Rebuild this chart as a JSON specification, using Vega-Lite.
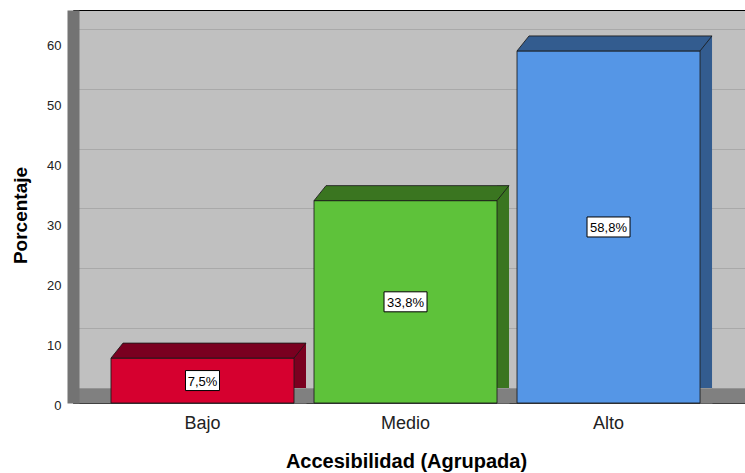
{
  "$schema": "https://vega.github.io/schema/vega-lite/v6.json",
  "width": 672,
  "height": 393,
  "autosize": {"type": "none"},
  "padding": {"left": 73, "top": 10, "right": 0, "bottom": 70},
  "background": "#ffffff",
  "config": {
    "font": "Liberation Sans",
    "view": {"fill": "#c0c0c0", "stroke": "#000000", "strokeWidth": 1}
  },
  "data": {
    "values": [
      {"cat": "Bajo", "pct": 7.5},
      {"cat": "Medio", "pct": 33.8},
      {"cat": "Alto", "pct": 58.8}
    ]
  },
  "transform": [
    {"calculate": "datum.pct / 2", "as": "mid"},
    {"calculate": "replace(format(datum.pct, '.1f'), '.', ',') + '%'", "as": "label"}
  ],
  "encoding": {
    "x": {
      "field": "cat",
      "type": "nominal",
      "sort": ["Bajo", "Medio", "Alto"],
      "scale": {"paddingInner": 0.0985, "paddingOuter": 0.2043, "align": 0.458},
      "axis": {
        "title": "Accesibilidad (Agrupada)",
        "labelAngle": 0,
        "grid": false,
        "ticks": false,
        "tickSize": 0,
        "offset": -7.5,
        "domainColor": "#808080",
        "domainWidth": 15,
        "labelPadding": 32.5,
        "labelBaseline": "alphabetic",
        "labelFontSize": 18,
        "labelColor": "#222222",
        "titleFontSize": 20,
        "titleFontWeight": "bold",
        "titleColor": "#000000",
        "titleBaseline": "alphabetic",
        "titleX": 333,
        "titleY": 71.5
      }
    }
  },
  "layer": [
    {
      "mark": {"type": "bar", "width": 12, "xOffset": 97.5, "yOffset": -15},
      "encoding": {
        "y": {
          "field": "pct",
          "type": "quantitative",
          "title": "Porcentaje",
          "scale": {"domain": [0, 65.64], "nice": false, "zero": true},
          "axis": {
            "values": [0, 10, 20, 30, 40, 50, 60],
            "grid": true,
            "gridColor": "#a9a9a9",
            "gridWidth": 1,
            "tickOffset": -15,
            "labelOffset": 17,
            "ticks": false,
            "tickSize": 0,
            "offset": 0,
            "domainColor": "#737373",
            "domainWidth": 12,
            "labelPadding": 12,
            "labelFontSize": 13,
            "labelColor": "#222222",
            "labelOverlap": false,
            "labelFlush": false,
            "titleFontSize": 19,
            "titleFontWeight": "bold",
            "titleColor": "#000000",
            "titleBaseline": "bottom",
            "titleX": -43,
            "titleY": 205
          }
        },
        "fill": {
          "field": "cat",
          "type": "nominal",
          "scale": {"domain": ["Bajo", "Medio", "Alto"], "range": ["#7a0020", "#3a7520", "#335c8f"]},
          "legend": null
        }
      }
    },
    {
      "mark": {"type": "point", "filled": true, "opacity": 1, "size": 4, "shape": "M91.5,0.5L104,-15L104,0.5Z", "fill": "#808080", "strokeWidth": 0},
      "encoding": {
        "y": {"datum": 0, "type": "quantitative", "title": "Porcentaje"}
      }
    },
    {
      "mark": {"type": "bar", "stroke": "#1a1a1a", "strokeWidth": 1, "strokeOpacity": 0.85},
      "encoding": {
        "y": {"field": "pct", "type": "quantitative", "title": "Porcentaje"},
        "color": {
          "field": "cat",
          "type": "nominal",
          "scale": {"domain": ["Bajo", "Medio", "Alto"], "range": ["#d6002f", "#5ec23a", "#5596e6"]},
          "legend": null
        }
      }
    },
    {
      "mark": {"type": "point", "filled": true, "opacity": 1, "size": 4, "shape": "M-91.5,0L91.5,0L103.5,-15L-79.5,-15Z", "stroke": "#1a1a1a", "strokeWidth": 1, "strokeOpacity": 0.85},
      "encoding": {
        "y": {"field": "pct", "type": "quantitative", "title": "Porcentaje"},
        "fill": {"field": "cat", "type": "nominal", "legend": null}
      }
    },
    {
      "mark": {"type": "point", "filled": true, "opacity": 1, "size": 4, "fill": "#ffffff", "stroke": "#000000", "strokeWidth": 1},
      "encoding": {
        "y": {"field": "mid", "type": "quantitative", "title": "Porcentaje"},
        "shape": {
          "field": "cat",
          "type": "nominal",
          "scale": {
            "domain": ["Bajo", "Medio", "Alto"],
            "range": ["M-17,-10L17,-10L17,10L-17,10Z", "M-21.5,-10L21.5,-10L21.5,10L-21.5,10Z", "M-21.5,-10L21.5,-10L21.5,10L-21.5,10Z"]
          },
          "legend": null
        }
      }
    },
    {
      "mark": {"type": "text", "fontSize": 13, "color": "#000000", "align": "center", "baseline": "middle", "dy": 1},
      "encoding": {
        "y": {"field": "mid", "type": "quantitative", "title": "Porcentaje"},
        "text": {"field": "label", "type": "nominal"}
      }
    }
  ]
}
